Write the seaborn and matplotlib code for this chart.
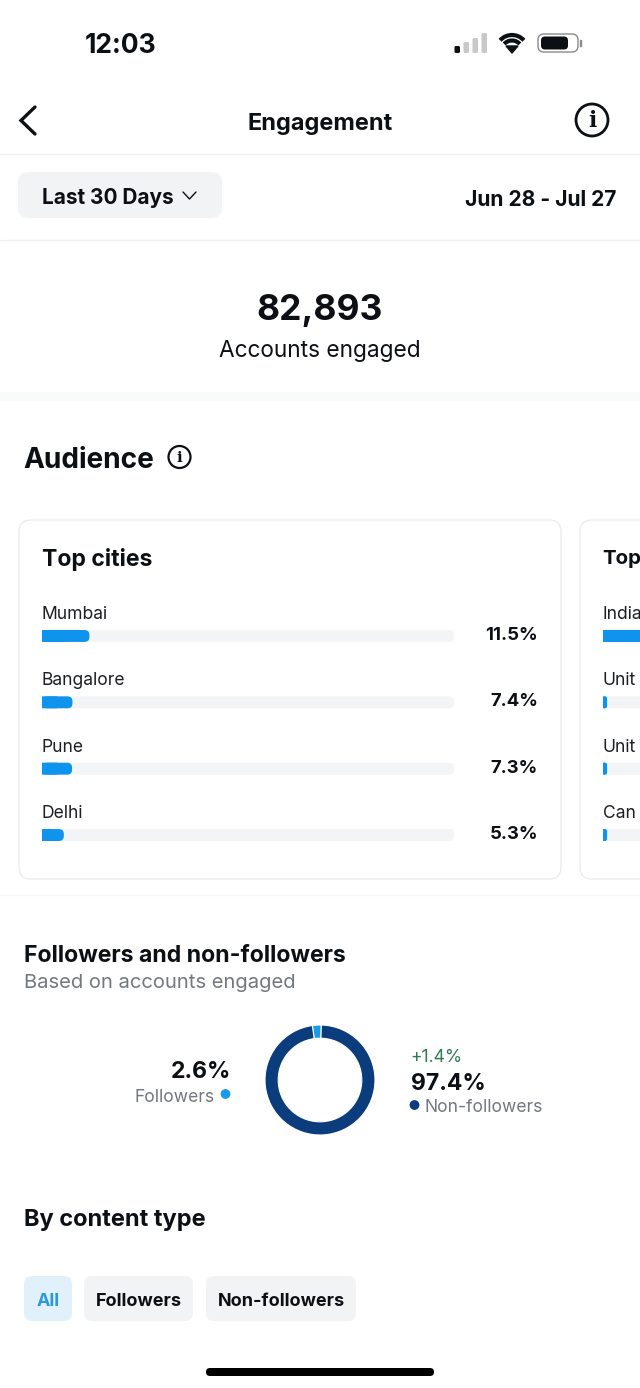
import numpy as np
import pandas as pd
import matplotlib
matplotlib.use('Agg')
import matplotlib.pyplot as plt
import seaborn as sns
from matplotlib.patches import FancyBboxPatch, Circle, Arc, Rectangle

cities = ['Mumbai', 'Bangalore', 'Pune', 'Delhi']
city_pct = [11.5, 7.4, 7.3, 5.3]
# second card runs off the screen, only the start of its labels shows
countries = ['India', 'Unit', 'Unit', 'Can']
country_pct = [70.0, 1.0, 1.0, 1.0]
follower_labels = ['Followers', 'Non-followers']
follower_pct = [2.6, 97.4]
filter_labels = ['All', 'Followers', 'Non-followers']

INK = '#0c1014'
GREY = '#737880'
BLUE = '#0f94ee'
NAVY = '#0b3d7c'
TRACK = '#f2f4f6'
PILL = '#f1f3f5'
LINE = '#eff0f2'

sns.set_theme(style='white')
plt.rcParams['font.family'] = ['Inter', 'DejaVu Sans']

W, H = 640, 1388
fig = plt.figure(figsize=(W / 100, H / 100), dpi=100, facecolor='white')

# whole figure in pixel coords, y going down
bg = fig.add_axes([0, 0, 1, 1], zorder=0)
bg.set_xlim(0, W)
bg.set_ylim(H, 0)
bg.axis('off')


def txt(x, y, s, px, color=INK, weight='normal', ha='left', **kw):
    return bg.text(x, y, s, fontsize=px * 0.72, color=color, fontweight=weight,
                   ha=ha, va='center', **kw)


def box(x0, y0, x1, y1, r, fc, ec='none', lw=0, z=1):
    p = FancyBboxPatch((x0 + r, y0 + r), x1 - x0 - 2 * r, y1 - y0 - 2 * r,
                       boxstyle='round,pad=%f,rounding_size=%f' % (r, r),
                       fc=fc, ec=ec, lw=lw, zorder=z)
    bg.add_patch(p)
    return p


def sub_axes(x0, y0, x1, y1, z=2):
    a = fig.add_axes([x0 / W, 1 - y1 / H, (x1 - x0) / W, (y1 - y0) / H], zorder=z)
    a.patch.set_alpha(0)
    return a


def hline(y, color=LINE, lw=1.0):
    bg.plot([0, W], [y, y], color=color, lw=lw, zorder=1)


def bar_card(x0, vals):
    # one axes per card, row pitch 66.4px, track is 412px wide
    ax = sub_axes(x0, 602.8, x0 + 412, 868.2)
    df = pd.DataFrame({'row': range(len(vals)), 'pct': vals, 'full': [100] * len(vals)})
    sns.barplot(data=df, x='full', y='row', orient='h', color=TRACK, saturation=1,
                width=0.18, linewidth=0, ax=ax)
    n_track = len(ax.patches)
    sns.barplot(data=df, x='pct', y='row', orient='h', color=BLUE, saturation=1,
                width=0.18, linewidth=0, ax=ax)
    ax.set_xlim(0, 100)
    ax.set_ylim(len(vals) - 0.5, -0.5)
    ax.axis('off')
    fig.canvas.draw()
    to_bg = ax.transData + bg.transData.inverted()
    for i, p in enumerate(ax.patches):
        (a, b), (c, d) = to_bg.transform([(p.get_x(), p.get_y()),
                                          (p.get_x() + p.get_width(), p.get_y() + p.get_height())])
        if i < n_track:
            box(a, min(b, d), c, max(b, d), 5, TRACK, z=2)
            p.set_visible(False)
        else:
            # square left end from the bar itself, round right end on top
            box(a, min(b, d), c, max(b, d), min(5, (c - a) / 2), BLUE, z=3)
            p.set_width(p.get_width() / 2)
            p.set_snap(False)
    return ax


# status bar
txt(85, 45.5, '12:03', 26.5, weight='bold')
for x, top, c in zip([454.5, 463.5, 472.5, 481.5], [46, 42, 38, 33],
                     [INK, '#c8c8c8', '#c8c8c8', '#c8c8c8']):
    box(x, top, x + 5.5, 53, 1.5, c, z=2)
for r, lw in [(16, 3.0), (10.5, 3.0)]:
    bg.add_patch(Arc((512, 51), 2 * r, 2 * r, theta1=222, theta2=318, lw=lw, color=INK, zorder=2))
bg.fill([506, 518, 512], [46, 46, 53], color=INK, zorder=2)
box(538, 34, 578, 52, 6, 'white', ec='#8a8a8a', lw=1.0)
box(541, 36.5, 568, 49.5, 4, INK, z=2)
bg.add_patch(Rectangle((579.5, 40), 1.5, 6, color='#8a8a8a'))

# header
bg.plot([35, 21, 35], [107, 120.5, 134], color=INK, lw=2.4, solid_capstyle='round',
        solid_joinstyle='miter', zorder=2)
txt(320, 124, 'Engagement', 23.5, weight='bold', ha='center')
bg.add_patch(Circle((592, 120), 16, fc='none', ec=INK, lw=2.0))
txt(592, 120.5, 'i', 22, weight='bold', ha='center', family='DejaVu Serif')
hline(154)

box(18, 172, 222, 218, 11, PILL)
txt(42, 198, 'Last 30 Days', 20.8, weight='bold')
bg.plot([183, 189.5, 196], [192, 199, 192], color=INK, lw=1.0, zorder=2)
txt(616, 200, 'Jun 28 - Jul 27', 21, weight='bold', ha='right')
hline(240)

txt(320, 310, '82,893', 35.5, weight='bold', ha='center')
txt(320, 351, 'Accounts engaged', 22.7, ha='center')
bg.add_patch(Rectangle((0, 392), W, 8, color='#f9fafa', zorder=1))

txt(23.5, 460, 'Audience', 28, weight='bold')
bg.add_patch(Circle((179.5, 457), 11, fc='none', ec=INK, lw=1.6))
txt(179.5, 457.5, 'i', 15, weight='bold', ha='center', family='DejaVu Serif')

# cards
box(19, 520, 561, 879, 12, 'white', ec='#e8eaec', lw=0.9)
box(580, 520, 1100, 879, 12, 'white', ec='#e8eaec', lw=0.9)
txt(42, 559, 'Top cities', 23, weight='bold')
txt(602, 559, 'Top', 20.5, weight='bold')
bar_card(42, city_pct)
bar_card(603, country_pct)
for i in range(4):
    y = 636 + 66.4 * i
    txt(41.7, y - 21.5, cities[i], 17.5, color='#1c1f23')
    txt(603, y - 21.5, countries[i], 17.5, color='#1c1f23')
    txt(538, y - 0.5, '%.1f%%' % city_pct[i], 18.5, weight='bold', ha='right')
hline(895, color='#f8f9fa')

# followers donut
txt(24, 956, 'Followers and non-followers', 23, weight='bold')
txt(24, 983, 'Based on accounts engaged', 20.2, color=GREY)
dax = sub_axes(265, 1025, 375, 1135)
dax.pie(follower_pct, colors=['#1a9be8', NAVY], startangle=98, counterclock=False, radius=1,
        wedgeprops=dict(width=0.24, edgecolor='white', linewidth=0.8))
dax.set_xlim(-1, 1)
dax.set_ylim(-1, 1)

txt(231, 1072, '%.1f%%' % follower_pct[0], 23, weight='bold', ha='right')
txt(215, 1097, follower_labels[0], 17.5, color=GREY, ha='right')
bg.add_patch(Circle((225.5, 1094), 4.2, color='#1a9be8', zorder=2))
txt(410, 1057, '+1.4%', 17.5, color='#2e7d52')
txt(411, 1084, '%.1f%%' % follower_pct[1], 23, weight='bold')
bg.add_patch(Circle((414.5, 1105), 4.2, color=NAVY, zorder=2))
txt(425, 1107, follower_labels[1], 17.5, color=GREY)

# content type filter
txt(24, 1220, 'By content type', 23.6, weight='bold')
for (x0, x1), label in zip([(24, 72), (84, 193), (206, 356)], filter_labels):
    active = label == 'All'
    box(x0, 1276, x1, 1321, 8, '#e1f1fb' if active else PILL)
    txt((x0 + x1) / 2, 1301, label, 18, weight='bold',
        color='#2a9bd8' if active else INK, ha='center')

box(206, 1368, 434, 1376, 4, '#000000', z=2)

fig.savefig('out.png', dpi=100, facecolor='white')
